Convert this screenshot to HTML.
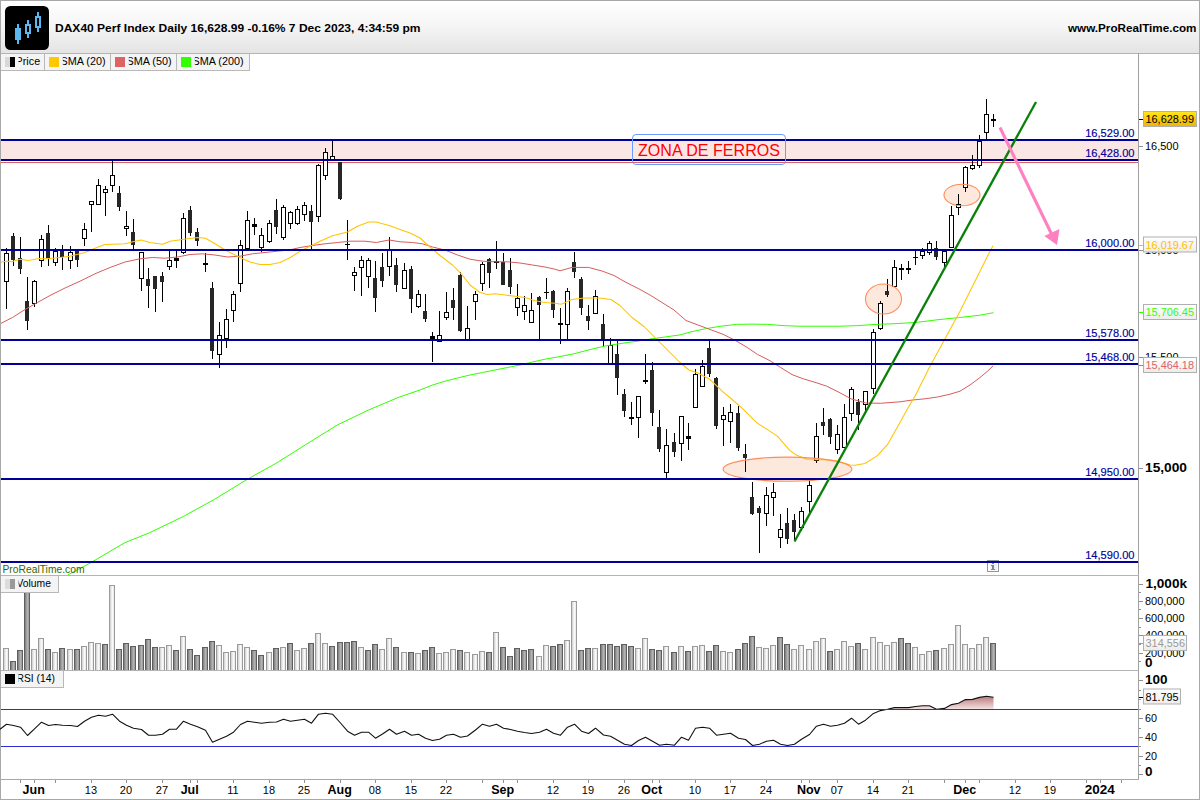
<!DOCTYPE html><html><head><meta charset="utf-8"><title>DAX40 Perf Index</title>
<style>html,body{margin:0;padding:0;background:#fff;}body{width:1200px;height:800px;overflow:hidden;font-family:"Liberation Sans",sans-serif;}svg{display:block;}text{font-family:"Liberation Sans",sans-serif;}</style></head><body>
<svg width="1200" height="800" viewBox="0 0 1200 800">
<defs>
<linearGradient id="hd" x1="0" y1="0" x2="0" y2="1"><stop offset="0" stop-color="#ffffff"/><stop offset="0.45" stop-color="#f6f6f6"/><stop offset="1" stop-color="#e4e4e4"/></linearGradient>
<linearGradient id="yl" x1="0" y1="0" x2="0" y2="1"><stop offset="0" stop-color="#ffe81a"/><stop offset="1" stop-color="#f0b400"/></linearGradient>
<linearGradient id="lb" x1="0" y1="0" x2="0" y2="1"><stop offset="0" stop-color="#ffffff"/><stop offset="1" stop-color="#ececec"/></linearGradient>
<linearGradient id="vl" x1="0" y1="0" x2="1" y2="0"><stop offset="0" stop-color="#cfcfcf"/><stop offset="0.6" stop-color="#fbfbfb"/><stop offset="1" stop-color="#e6e6e6"/></linearGradient>
<linearGradient id="vd" x1="0" y1="0" x2="1" y2="0"><stop offset="0" stop-color="#7c7c7c"/><stop offset="0.6" stop-color="#b4b4b4"/><stop offset="1" stop-color="#9a9a9a"/></linearGradient>
<linearGradient id="rg" x1="0" y1="696" x2="0" y2="709" gradientUnits="userSpaceOnUse"><stop offset="0" stop-color="#b87878"/><stop offset="1" stop-color="#f4e0e0"/></linearGradient>
<clipPath id="cp"><rect x="1" y="53" width="1137" height="522"/></clipPath>
<clipPath id="cv"><rect x="1" y="576" width="1137" height="94"/></clipPath>
<clipPath id="cr70"><rect x="1" y="671" width="1137" height="38.2"/></clipPath>
</defs>
<rect x="0" y="0" width="1200" height="800" fill="#ffffff"/>
<rect x="1" y="1" width="1198" height="52" fill="url(#hd)"/>
<rect x="1" y="53" width="1198" height="1" fill="#b4b4b4" shape-rendering="crispEdges"/>
<rect x="5" y="6" width="44" height="44" rx="5.5" ry="5.5" fill="#000"/>
<g fill="#5bb8f0" shape-rendering="crispEdges">
<rect x="17" y="24" width="2" height="20"/><rect x="15" y="28" width="6" height="12"/>
<rect x="27" y="20" width="2" height="18"/><rect x="25" y="24" width="6" height="10"/>
<rect x="37" y="12" width="2" height="20"/><rect x="35" y="16" width="6" height="12"/>
</g><g fill="#000" shape-rendering="crispEdges"><rect x="27" y="26" width="2" height="6"/><rect x="37" y="18" width="2" height="8"/></g>
<text x="55" y="32.2" font-size="11.3" font-weight="bold" fill="#000" textLength="365.5" lengthAdjust="spacingAndGlyphs">DAX40 Perf Index Daily 16,628.99 -0.16% 7 Dec 2023, 4:34:59 pm</text>
<text x="1068" y="31.8" font-size="11.3" font-weight="bold" fill="#000" textLength="128.5" lengthAdjust="spacingAndGlyphs">www.ProRealTime.com</text>
<g clip-path="url(#cp)">
<rect x="1" y="141" width="1137" height="18" fill="#fbe6e6"/>
<rect x="1" y="162" width="1137" height="1" fill="#e06060" shape-rendering="crispEdges"/>
<ellipse cx="787.5" cy="469.2" rx="64.4" ry="12.1" fill="#fde8de"/>
<ellipse cx="883.5" cy="299" rx="18" ry="15" fill="#fde8de"/>
<ellipse cx="962" cy="195" rx="18" ry="10.8" fill="#fde8de"/>
<g shape-rendering="crispEdges">
<rect x="6" y="248" width="1" height="61" fill="#000"/>
<rect x="4" y="253" width="5" height="29" fill="#000"/><rect x="5" y="254" width="3" height="27" fill="#fff"/>
<rect x="13" y="233" width="1" height="33" fill="#000"/>
<rect x="11" y="236" width="4" height="24" fill="#262626"/>
<rect x="20" y="237" width="1" height="37" fill="#000"/>
<rect x="18" y="258" width="4" height="11" fill="#262626"/>
<rect x="27" y="277" width="1" height="53" fill="#000"/>
<rect x="25" y="301" width="4" height="20" fill="#262626"/>
<rect x="34" y="280" width="1" height="27" fill="#000"/>
<rect x="32" y="281" width="5" height="23" fill="#000"/><rect x="33" y="282" width="3" height="21" fill="#fff"/>
<rect x="41" y="235" width="1" height="32" fill="#000"/>
<rect x="39" y="239" width="5" height="22" fill="#000"/><rect x="40" y="240" width="3" height="20" fill="#fff"/>
<rect x="48" y="225" width="1" height="41" fill="#000"/>
<rect x="46" y="233" width="4" height="25" fill="#262626"/>
<rect x="55" y="248" width="1" height="18" fill="#000"/>
<rect x="53" y="251" width="5" height="12" fill="#000"/><rect x="54" y="252" width="3" height="10" fill="#fff"/>
<rect x="62" y="245" width="1" height="25" fill="#000"/>
<rect x="60" y="250" width="4" height="7" fill="#262626"/>
<rect x="70" y="246" width="1" height="23" fill="#000"/>
<rect x="68" y="252" width="5" height="9" fill="#000"/><rect x="69" y="253" width="3" height="7" fill="#fff"/>
<rect x="77" y="250" width="1" height="17" fill="#000"/>
<rect x="75" y="251" width="4" height="9" fill="#262626"/>
<rect x="84" y="223" width="1" height="23" fill="#000"/>
<rect x="82" y="229" width="5" height="10" fill="#000"/><rect x="83" y="230" width="3" height="8" fill="#fff"/>
<rect x="91" y="201" width="1" height="31" fill="#000"/>
<rect x="89" y="201" width="5" height="4" fill="#000"/><rect x="90" y="202" width="3" height="2" fill="#fff"/>
<rect x="98" y="179" width="1" height="25" fill="#000"/>
<rect x="96" y="185" width="5" height="20" fill="#000"/><rect x="97" y="186" width="3" height="18" fill="#fff"/>
<rect x="105" y="186" width="1" height="30" fill="#000"/>
<rect x="103" y="189" width="5" height="4" fill="#000"/><rect x="104" y="190" width="3" height="2" fill="#fff"/>
<rect x="112" y="161" width="1" height="31" fill="#000"/>
<rect x="110" y="175" width="5" height="11" fill="#000"/><rect x="111" y="176" width="3" height="9" fill="#fff"/>
<rect x="119" y="186" width="1" height="25" fill="#000"/>
<rect x="117" y="193" width="4" height="14" fill="#262626"/>
<rect x="126" y="211" width="1" height="25" fill="#000"/>
<rect x="124" y="226" width="5" height="3" fill="#000"/><rect x="125" y="227" width="3" height="1" fill="#fff"/>
<rect x="133" y="219" width="1" height="31" fill="#000"/>
<rect x="131" y="232" width="4" height="13" fill="#262626"/>
<rect x="141" y="252" width="1" height="39" fill="#000"/>
<rect x="139" y="252" width="5" height="27" fill="#000"/><rect x="140" y="253" width="3" height="25" fill="#fff"/>
<rect x="148" y="268" width="1" height="40" fill="#000"/>
<rect x="146" y="279" width="4" height="7" fill="#262626"/>
<rect x="155" y="276" width="1" height="36" fill="#000"/>
<rect x="153" y="276" width="4" height="13" fill="#262626"/>
<rect x="162" y="272" width="1" height="30" fill="#000"/>
<rect x="160" y="276" width="4" height="6" fill="#262626"/>
<rect x="169" y="251" width="1" height="19" fill="#000"/>
<rect x="167" y="260" width="5" height="7" fill="#000"/><rect x="168" y="261" width="3" height="5" fill="#fff"/>
<rect x="176" y="251" width="1" height="17" fill="#000"/>
<rect x="174" y="258" width="5" height="3" fill="#000"/>
<rect x="183" y="213" width="1" height="41" fill="#000"/>
<rect x="181" y="218" width="5" height="35" fill="#000"/><rect x="182" y="219" width="3" height="33" fill="#fff"/>
<rect x="190" y="206" width="1" height="30" fill="#000"/>
<rect x="188" y="210" width="4" height="23" fill="#262626"/>
<rect x="197" y="228" width="1" height="18" fill="#000"/>
<rect x="195" y="232" width="4" height="9" fill="#262626"/>
<rect x="205" y="253" width="1" height="19" fill="#000"/>
<rect x="203" y="263" width="5" height="2" fill="#000"/>
<rect x="212" y="282" width="1" height="77" fill="#000"/>
<rect x="210" y="288" width="4" height="63" fill="#262626"/>
<rect x="219" y="322" width="1" height="46" fill="#000"/>
<rect x="217" y="335" width="5" height="20" fill="#000"/><rect x="218" y="336" width="3" height="18" fill="#fff"/>
<rect x="226" y="309" width="1" height="39" fill="#000"/>
<rect x="224" y="319" width="5" height="20" fill="#000"/><rect x="225" y="320" width="3" height="18" fill="#fff"/>
<rect x="233" y="291" width="1" height="31" fill="#000"/>
<rect x="231" y="294" width="5" height="17" fill="#000"/><rect x="232" y="295" width="3" height="15" fill="#fff"/>
<rect x="240" y="240" width="1" height="52" fill="#000"/>
<rect x="238" y="245" width="5" height="39" fill="#000"/><rect x="239" y="246" width="3" height="37" fill="#fff"/>
<rect x="247" y="211" width="1" height="37" fill="#000"/>
<rect x="245" y="220" width="5" height="29" fill="#000"/><rect x="246" y="221" width="3" height="27" fill="#fff"/>
<rect x="254" y="218" width="1" height="17" fill="#000"/>
<rect x="252" y="224" width="5" height="3" fill="#000"/>
<rect x="261" y="228" width="1" height="24" fill="#000"/>
<rect x="259" y="235" width="5" height="13" fill="#000"/><rect x="260" y="236" width="3" height="11" fill="#fff"/>
<rect x="269" y="220" width="1" height="23" fill="#000"/>
<rect x="267" y="223" width="5" height="19" fill="#000"/><rect x="268" y="224" width="3" height="17" fill="#fff"/>
<rect x="276" y="199" width="1" height="35" fill="#000"/>
<rect x="274" y="210" width="4" height="17" fill="#262626"/>
<rect x="283" y="205" width="1" height="35" fill="#000"/>
<rect x="281" y="207" width="5" height="31" fill="#000"/><rect x="282" y="208" width="3" height="29" fill="#fff"/>
<rect x="290" y="211" width="1" height="18" fill="#000"/>
<rect x="288" y="212" width="5" height="12" fill="#000"/><rect x="289" y="213" width="3" height="10" fill="#fff"/>
<rect x="297" y="206" width="1" height="19" fill="#000"/>
<rect x="295" y="209" width="5" height="15" fill="#000"/><rect x="296" y="210" width="3" height="13" fill="#fff"/>
<rect x="304" y="202" width="1" height="19" fill="#000"/>
<rect x="302" y="205" width="5" height="10" fill="#000"/><rect x="303" y="206" width="3" height="8" fill="#fff"/>
<rect x="311" y="205" width="1" height="44" fill="#000"/>
<rect x="309" y="211" width="4" height="11" fill="#262626"/>
<rect x="318" y="164" width="1" height="58" fill="#000"/>
<rect x="316" y="165" width="5" height="52" fill="#000"/><rect x="317" y="166" width="3" height="50" fill="#fff"/>
<rect x="325" y="148" width="1" height="32" fill="#000"/>
<rect x="323" y="152" width="5" height="24" fill="#000"/><rect x="324" y="153" width="3" height="22" fill="#fff"/>
<rect x="332" y="141" width="1" height="19" fill="#000"/>
<rect x="330" y="156" width="5" height="4" fill="#000"/><rect x="331" y="157" width="3" height="2" fill="#fff"/>
<rect x="340" y="162" width="1" height="38" fill="#000"/>
<rect x="338" y="162" width="4" height="37" fill="#262626"/>
<rect x="347" y="220" width="1" height="40" fill="#000"/>
<rect x="345" y="244" width="5" height="1" fill="#000"/>
<rect x="354" y="267" width="1" height="24" fill="#000"/>
<rect x="352" y="272" width="5" height="4" fill="#000"/><rect x="353" y="273" width="3" height="2" fill="#fff"/>
<rect x="361" y="256" width="1" height="40" fill="#000"/>
<rect x="359" y="260" width="5" height="8" fill="#000"/><rect x="360" y="261" width="3" height="6" fill="#fff"/>
<rect x="368" y="258" width="1" height="30" fill="#000"/>
<rect x="366" y="260" width="5" height="17" fill="#000"/><rect x="367" y="261" width="3" height="15" fill="#fff"/>
<rect x="375" y="261" width="1" height="51" fill="#000"/>
<rect x="373" y="278" width="4" height="20" fill="#262626"/>
<rect x="382" y="253" width="1" height="34" fill="#000"/>
<rect x="380" y="267" width="4" height="14" fill="#262626"/>
<rect x="389" y="237" width="1" height="39" fill="#000"/>
<rect x="387" y="250" width="5" height="17" fill="#000"/><rect x="388" y="251" width="3" height="15" fill="#fff"/>
<rect x="396" y="258" width="1" height="34" fill="#000"/>
<rect x="394" y="265" width="4" height="20" fill="#262626"/>
<rect x="404" y="263" width="1" height="25" fill="#000"/>
<rect x="402" y="270" width="5" height="19" fill="#000"/><rect x="403" y="271" width="3" height="17" fill="#fff"/>
<rect x="411" y="266" width="1" height="47" fill="#000"/>
<rect x="409" y="269" width="4" height="30" fill="#262626"/>
<rect x="418" y="290" width="1" height="18" fill="#000"/>
<rect x="416" y="294" width="5" height="13" fill="#000"/><rect x="417" y="295" width="3" height="11" fill="#fff"/>
<rect x="425" y="294" width="1" height="28" fill="#000"/>
<rect x="423" y="311" width="4" height="8" fill="#262626"/>
<rect x="432" y="332" width="1" height="30" fill="#000"/>
<rect x="430" y="336" width="5" height="3" fill="#000"/>
<rect x="439" y="311" width="1" height="30" fill="#000"/>
<rect x="437" y="335" width="5" height="7" fill="#000"/><rect x="438" y="336" width="3" height="5" fill="#fff"/>
<rect x="446" y="292" width="1" height="28" fill="#000"/>
<rect x="444" y="312" width="5" height="6" fill="#000"/><rect x="445" y="313" width="3" height="4" fill="#fff"/>
<rect x="453" y="288" width="1" height="32" fill="#000"/>
<rect x="451" y="300" width="4" height="8" fill="#262626"/>
<rect x="460" y="272" width="1" height="60" fill="#000"/>
<rect x="458" y="275" width="4" height="56" fill="#262626"/>
<rect x="467" y="306" width="1" height="33" fill="#000"/>
<rect x="465" y="328" width="5" height="12" fill="#000"/><rect x="466" y="329" width="3" height="10" fill="#fff"/>
<rect x="475" y="291" width="1" height="29" fill="#000"/>
<rect x="473" y="294" width="5" height="8" fill="#000"/><rect x="474" y="295" width="3" height="6" fill="#fff"/>
<rect x="482" y="262" width="1" height="29" fill="#000"/>
<rect x="480" y="264" width="5" height="20" fill="#000"/><rect x="481" y="265" width="3" height="18" fill="#fff"/>
<rect x="489" y="258" width="1" height="30" fill="#000"/>
<rect x="487" y="259" width="4" height="14" fill="#262626"/>
<rect x="496" y="241" width="1" height="28" fill="#000"/>
<rect x="494" y="261" width="5" height="2" fill="#000"/>
<rect x="503" y="253" width="1" height="32" fill="#000"/>
<rect x="501" y="262" width="4" height="23" fill="#262626"/>
<rect x="510" y="258" width="1" height="36" fill="#000"/>
<rect x="508" y="270" width="4" height="17" fill="#262626"/>
<rect x="517" y="284" width="1" height="32" fill="#000"/>
<rect x="515" y="298" width="5" height="10" fill="#000"/><rect x="516" y="299" width="3" height="8" fill="#fff"/>
<rect x="524" y="296" width="1" height="24" fill="#000"/>
<rect x="522" y="305" width="5" height="7" fill="#000"/><rect x="523" y="306" width="3" height="5" fill="#fff"/>
<rect x="531" y="293" width="1" height="29" fill="#000"/>
<rect x="529" y="310" width="5" height="13" fill="#000"/><rect x="530" y="311" width="3" height="11" fill="#fff"/>
<rect x="539" y="296" width="1" height="43" fill="#000"/>
<rect x="537" y="297" width="4" height="8" fill="#262626"/>
<rect x="546" y="278" width="1" height="21" fill="#000"/>
<rect x="544" y="292" width="5" height="1" fill="#000"/>
<rect x="553" y="290" width="1" height="28" fill="#000"/>
<rect x="551" y="291" width="4" height="19" fill="#262626"/>
<rect x="560" y="308" width="1" height="36" fill="#000"/>
<rect x="558" y="323" width="5" height="2" fill="#000"/>
<rect x="567" y="288" width="1" height="51" fill="#000"/>
<rect x="565" y="291" width="5" height="34" fill="#000"/><rect x="566" y="292" width="3" height="32" fill="#fff"/>
<rect x="574" y="252" width="1" height="26" fill="#000"/>
<rect x="572" y="262" width="4" height="10" fill="#262626"/>
<rect x="581" y="277" width="1" height="38" fill="#000"/>
<rect x="579" y="279" width="4" height="29" fill="#262626"/>
<rect x="588" y="305" width="1" height="25" fill="#000"/>
<rect x="586" y="316" width="4" height="5" fill="#262626"/>
<rect x="595" y="290" width="1" height="24" fill="#000"/>
<rect x="593" y="296" width="5" height="18" fill="#000"/><rect x="594" y="297" width="3" height="16" fill="#fff"/>
<rect x="603" y="314" width="1" height="33" fill="#000"/>
<rect x="601" y="324" width="4" height="15" fill="#262626"/>
<rect x="610" y="338" width="1" height="26" fill="#000"/>
<rect x="608" y="345" width="5" height="20" fill="#000"/><rect x="609" y="346" width="3" height="18" fill="#fff"/>
<rect x="617" y="341" width="1" height="54" fill="#000"/>
<rect x="615" y="354" width="4" height="24" fill="#262626"/>
<rect x="624" y="389" width="1" height="28" fill="#000"/>
<rect x="622" y="394" width="4" height="17" fill="#262626"/>
<rect x="631" y="402" width="1" height="23" fill="#000"/>
<rect x="629" y="417" width="5" height="2" fill="#000"/>
<rect x="638" y="396" width="1" height="42" fill="#000"/>
<rect x="636" y="396" width="5" height="22" fill="#000"/><rect x="637" y="397" width="3" height="20" fill="#fff"/>
<rect x="645" y="354" width="1" height="30" fill="#000"/>
<rect x="643" y="380" width="5" height="2" fill="#000"/>
<rect x="652" y="362" width="1" height="64" fill="#000"/>
<rect x="650" y="370" width="4" height="43" fill="#262626"/>
<rect x="659" y="410" width="1" height="42" fill="#000"/>
<rect x="657" y="427" width="4" height="22" fill="#262626"/>
<rect x="666" y="429" width="1" height="51" fill="#000"/>
<rect x="664" y="445" width="5" height="28" fill="#000"/><rect x="665" y="446" width="3" height="26" fill="#fff"/>
<rect x="674" y="433" width="1" height="24" fill="#000"/>
<rect x="672" y="442" width="4" height="10" fill="#262626"/>
<rect x="681" y="416" width="1" height="45" fill="#000"/>
<rect x="679" y="416" width="5" height="28" fill="#000"/><rect x="680" y="417" width="3" height="26" fill="#fff"/>
<rect x="688" y="423" width="1" height="27" fill="#000"/>
<rect x="686" y="436" width="5" height="3" fill="#000"/>
<rect x="695" y="369" width="1" height="38" fill="#000"/>
<rect x="693" y="374" width="5" height="34" fill="#000"/><rect x="694" y="375" width="3" height="32" fill="#fff"/>
<rect x="702" y="360" width="1" height="26" fill="#000"/>
<rect x="700" y="366" width="5" height="21" fill="#000"/><rect x="701" y="367" width="3" height="19" fill="#fff"/>
<rect x="709" y="341" width="1" height="36" fill="#000"/>
<rect x="707" y="348" width="4" height="26" fill="#262626"/>
<rect x="716" y="377" width="1" height="52" fill="#000"/>
<rect x="714" y="378" width="4" height="48" fill="#262626"/>
<rect x="723" y="407" width="1" height="39" fill="#000"/>
<rect x="721" y="415" width="5" height="5" fill="#000"/><rect x="722" y="416" width="3" height="3" fill="#fff"/>
<rect x="730" y="404" width="1" height="39" fill="#000"/>
<rect x="728" y="412" width="5" height="10" fill="#000"/><rect x="729" y="413" width="3" height="8" fill="#fff"/>
<rect x="738" y="406" width="1" height="45" fill="#000"/>
<rect x="736" y="413" width="4" height="35" fill="#262626"/>
<rect x="745" y="444" width="1" height="28" fill="#000"/>
<rect x="743" y="454" width="4" height="4" fill="#262626"/>
<rect x="752" y="482" width="1" height="33" fill="#000"/>
<rect x="750" y="497" width="4" height="17" fill="#262626"/>
<rect x="759" y="506" width="1" height="47" fill="#000"/>
<rect x="757" y="508" width="4" height="5" fill="#262626"/>
<rect x="766" y="487" width="1" height="39" fill="#000"/>
<rect x="764" y="495" width="5" height="19" fill="#000"/><rect x="765" y="496" width="3" height="17" fill="#fff"/>
<rect x="773" y="483" width="1" height="33" fill="#000"/>
<rect x="771" y="492" width="5" height="6" fill="#000"/><rect x="772" y="493" width="3" height="4" fill="#fff"/>
<rect x="780" y="514" width="1" height="34" fill="#000"/>
<rect x="778" y="529" width="5" height="9" fill="#000"/><rect x="779" y="530" width="3" height="7" fill="#fff"/>
<rect x="787" y="508" width="1" height="36" fill="#000"/>
<rect x="785" y="523" width="4" height="16" fill="#262626"/>
<rect x="794" y="514" width="1" height="27" fill="#000"/>
<rect x="792" y="520" width="4" height="12" fill="#262626"/>
<rect x="801" y="507" width="1" height="24" fill="#000"/>
<rect x="799" y="511" width="5" height="17" fill="#000"/><rect x="800" y="512" width="3" height="15" fill="#fff"/>
<rect x="809" y="480" width="1" height="34" fill="#000"/>
<rect x="807" y="485" width="5" height="17" fill="#000"/><rect x="808" y="486" width="3" height="15" fill="#fff"/>
<rect x="816" y="423" width="1" height="40" fill="#000"/>
<rect x="814" y="436" width="5" height="25" fill="#000"/><rect x="815" y="437" width="3" height="23" fill="#fff"/>
<rect x="823" y="408" width="1" height="27" fill="#000"/>
<rect x="821" y="422" width="4" height="4" fill="#262626"/>
<rect x="830" y="418" width="1" height="26" fill="#000"/>
<rect x="828" y="419" width="4" height="18" fill="#262626"/>
<rect x="837" y="425" width="1" height="29" fill="#000"/>
<rect x="835" y="434" width="5" height="16" fill="#000"/><rect x="836" y="435" width="3" height="14" fill="#fff"/>
<rect x="844" y="404" width="1" height="44" fill="#000"/>
<rect x="842" y="417" width="5" height="31" fill="#000"/><rect x="843" y="418" width="3" height="29" fill="#fff"/>
<rect x="851" y="387" width="1" height="34" fill="#000"/>
<rect x="849" y="389" width="5" height="25" fill="#000"/><rect x="850" y="390" width="3" height="23" fill="#fff"/>
<rect x="858" y="399" width="1" height="31" fill="#000"/>
<rect x="856" y="402" width="4" height="13" fill="#262626"/>
<rect x="865" y="392" width="1" height="20" fill="#000"/>
<rect x="863" y="391" width="5" height="14" fill="#000"/><rect x="864" y="392" width="3" height="12" fill="#fff"/>
<rect x="873" y="329" width="1" height="65" fill="#000"/>
<rect x="871" y="332" width="5" height="57" fill="#000"/><rect x="872" y="333" width="3" height="55" fill="#fff"/>
<rect x="880" y="301" width="1" height="29" fill="#000"/>
<rect x="878" y="303" width="5" height="26" fill="#000"/><rect x="879" y="304" width="3" height="24" fill="#fff"/>
<rect x="887" y="279" width="1" height="18" fill="#000"/>
<rect x="885" y="291" width="4" height="4" fill="#262626"/>
<rect x="894" y="260" width="1" height="26" fill="#000"/>
<rect x="892" y="267" width="5" height="20" fill="#000"/><rect x="893" y="268" width="3" height="18" fill="#fff"/>
<rect x="901" y="264" width="1" height="16" fill="#000"/>
<rect x="899" y="268" width="5" height="2" fill="#000"/>
<rect x="908" y="261" width="1" height="13" fill="#000"/>
<rect x="906" y="268" width="5" height="2" fill="#000"/>
<rect x="915" y="251" width="1" height="14" fill="#000"/>
<rect x="913" y="257" width="5" height="1" fill="#000"/>
<rect x="922" y="248" width="1" height="11" fill="#000"/>
<rect x="920" y="251" width="5" height="5" fill="#000"/><rect x="921" y="252" width="3" height="3" fill="#fff"/>
<rect x="929" y="241" width="1" height="14" fill="#000"/>
<rect x="927" y="243" width="5" height="10" fill="#000"/><rect x="928" y="244" width="3" height="8" fill="#fff"/>
<rect x="936" y="241" width="1" height="19" fill="#000"/>
<rect x="934" y="248" width="4" height="9" fill="#262626"/>
<rect x="944" y="251" width="1" height="17" fill="#000"/>
<rect x="942" y="251" width="5" height="12" fill="#000"/><rect x="943" y="252" width="3" height="10" fill="#fff"/>
<rect x="951" y="206" width="1" height="42" fill="#000"/>
<rect x="949" y="215" width="5" height="33" fill="#000"/><rect x="950" y="216" width="3" height="31" fill="#fff"/>
<rect x="958" y="194" width="1" height="21" fill="#000"/>
<rect x="956" y="204" width="5" height="4" fill="#000"/><rect x="957" y="205" width="3" height="2" fill="#fff"/>
<rect x="965" y="166" width="1" height="26" fill="#000"/>
<rect x="963" y="167" width="5" height="21" fill="#000"/><rect x="964" y="168" width="3" height="19" fill="#fff"/>
<rect x="972" y="155" width="1" height="15" fill="#000"/>
<rect x="970" y="165" width="5" height="4" fill="#000"/><rect x="971" y="166" width="3" height="2" fill="#fff"/>
<rect x="979" y="135" width="1" height="33" fill="#000"/>
<rect x="977" y="141" width="5" height="25" fill="#000"/><rect x="978" y="142" width="3" height="23" fill="#fff"/>
<rect x="986" y="99" width="1" height="40" fill="#000"/>
<rect x="984" y="114" width="5" height="19" fill="#000"/><rect x="985" y="115" width="3" height="17" fill="#fff"/>
<rect x="993" y="114" width="1" height="13" fill="#000"/>
<rect x="991" y="119" width="5" height="2" fill="#000"/>
</g>
<polyline points="67.7,575.0 90.8,562.7 124.8,542.7 149.4,532.8 183.3,516.5 214.2,499.5 248.1,478.8 275.9,463.4 306.7,444.0 337.5,424.9 368.4,410.1 399.2,397.1 420.0,390.0 432.5,385.0 445.0,381.2 457.5,378.0 470.0,375.0 482.5,372.5 495.0,370.0 507.5,367.5 520.0,365.0 532.5,362.0 545.0,359.2 557.5,357.0 575.0,353.5 590.0,349.6 605.0,346.0 620.0,343.6 635.0,341.5 650.0,339.1 665.0,337.0 680.0,334.9 690.0,332.1 705.5,328.7 721.0,326.2 736.5,324.4 752.0,324.1 767.5,324.4 783.0,325.6 798.5,326.2 819.2,326.2 839.8,326.2 857.9,325.6 876.0,324.4 896.7,323.6 917.3,322.3 938.0,319.7 958.7,317.6 979.3,315.3 993.5,312.7" fill="none" stroke="#32ff00" stroke-width="1.0" stroke-linejoin="round"/>
<polyline points="0.0,323.8 12.5,317.5 25.0,309.5 37.5,302.5 50.0,295.5 65.0,288.0 80.0,281.2 95.0,273.8 110.0,267.5 125.0,262.0 140.0,258.8 152.5,257.5 165.0,258.2 177.5,257.0 190.0,254.5 202.5,253.8 215.0,255.0 227.5,257.0 240.0,256.2 252.5,253.8 265.0,252.5 277.5,251.2 290.0,249.8 300.0,247.5 312.5,245.5 325.0,243.8 337.5,242.5 350.0,241.2 365.0,241.2 376.2,242.5 389.2,240.0 400.0,241.8 412.5,242.5 422.5,243.8 432.5,247.0 445.0,250.0 457.5,255.0 470.0,259.2 482.5,261.2 495.0,261.8 507.5,261.8 520.0,263.0 532.5,265.0 545.0,267.0 555.0,269.2 560.0,270.8 572.0,267.4 588.5,267.4 602.0,271.0 614.0,275.5 626.0,282.4 638.0,288.4 650.0,295.0 662.0,302.5 674.0,310.0 686.0,320.5 698.0,325.0 711.5,330.0 723.0,334.3 734.5,340.0 746.0,346.7 757.5,354.4 769.0,360.2 780.5,367.4 792.0,374.6 803.5,378.9 815.0,382.3 826.5,386.1 838.0,391.8 851.5,399.0 865.9,403.0 880.3,403.3 900.0,401.8 912.5,400.0 925.0,398.8 937.5,397.0 950.0,394.2 960.0,391.2 970.0,385.0 980.0,377.5 987.5,371.2 993.2,365.8" fill="none" stroke="#d85c5c" stroke-width="1.0" stroke-linejoin="round"/>
<polyline points="0.0,262.5 6.2,261.2 12.5,261.6 15.6,260.6 20.6,259.2 23.8,259.7 27.5,260.5 32.5,259.7 38.8,258.4 43.8,258.8 50.0,258.4 55.0,258.1 60.0,257.5 70.0,256.2 85.0,252.5 95.0,248.2 105.0,244.5 125.0,243.8 135.0,241.2 141.0,240.0 150.0,242.5 162.5,244.2 170.0,241.2 182.5,239.5 197.5,237.5 205.5,238.2 215.0,243.8 225.0,250.0 240.0,257.5 250.0,262.0 260.0,264.5 270.0,264.5 280.0,262.5 290.0,257.8 300.0,251.2 310.0,246.2 320.0,241.2 332.5,235.8 347.5,232.0 357.5,226.2 368.8,222.0 376.2,222.0 390.0,225.8 400.0,229.5 410.0,233.0 420.0,238.0 430.0,247.0 440.0,255.5 452.5,265.0 461.2,273.8 470.0,285.0 480.0,292.5 487.5,294.5 495.0,293.8 505.0,295.0 515.0,296.2 525.0,297.5 535.0,300.8 545.0,302.5 555.0,303.2 561.2,304.2 572.0,299.5 584.0,298.0 599.0,298.0 611.0,299.5 620.0,305.5 632.0,317.5 644.0,326.5 656.0,338.5 668.0,350.5 680.0,362.5 689.0,370.0 698.0,373.0 710.0,379.5 723.0,391.8 731.6,399.0 743.1,409.1 757.5,423.4 769.0,430.6 777.6,436.4 786.3,446.4 790.0,450.6 796.2,455.0 807.5,459.4 815.0,459.8 825.0,459.8 835.0,460.6 842.5,462.5 850.0,465.0 855.0,465.2 865.0,463.5 877.4,455.6 887.4,444.7 900.0,422.5 907.5,408.8 915.0,396.2 922.5,381.2 930.0,366.2 937.5,352.5 945.0,338.8 952.5,325.0 960.0,311.2 967.5,296.2 975.0,281.2 982.5,266.2 990.0,251.2 993.2,245.5" fill="none" stroke="#ffc400" stroke-width="1.05" stroke-linejoin="round"/>
<ellipse cx="787.5" cy="469.2" rx="64.4" ry="12.1" fill="none" stroke="#ff8c55" stroke-width="1.1"/>
<ellipse cx="883.5" cy="299" rx="18" ry="15" fill="none" stroke="#ff8c55" stroke-width="1.1"/>
<ellipse cx="962" cy="195" rx="18" ry="10.8" fill="none" stroke="#ff8c55" stroke-width="1.1"/>
<rect x="1" y="139" width="1137" height="2" fill="#000099" shape-rendering="crispEdges"/>
<rect x="1" y="159" width="1137" height="2" fill="#000099" shape-rendering="crispEdges"/>
<rect x="1" y="249" width="1137" height="2" fill="#000099" shape-rendering="crispEdges"/>
<rect x="1" y="339" width="1137" height="2" fill="#000099" shape-rendering="crispEdges"/>
<rect x="1" y="363" width="1137" height="2" fill="#000099" shape-rendering="crispEdges"/>
<rect x="1" y="478" width="1137" height="2" fill="#000099" shape-rendering="crispEdges"/>
<rect x="1" y="561" width="1137" height="2" fill="#000099" shape-rendering="crispEdges"/>
<text x="1134.5" y="137" font-size="11" fill="#000099" stroke="#000099" stroke-width="0.15" text-anchor="end" textLength="49.3" lengthAdjust="spacingAndGlyphs">16,529.00</text>
<text x="1134.5" y="157" font-size="11" fill="#000099" stroke="#000099" stroke-width="0.15" text-anchor="end" textLength="49.3" lengthAdjust="spacingAndGlyphs">16,428.00</text>
<text x="1134.5" y="247" font-size="11" fill="#000099" stroke="#000099" stroke-width="0.15" text-anchor="end" textLength="49.3" lengthAdjust="spacingAndGlyphs">16,000.00</text>
<text x="1134.5" y="337" font-size="11" fill="#000099" stroke="#000099" stroke-width="0.15" text-anchor="end" textLength="49.3" lengthAdjust="spacingAndGlyphs">15,578.00</text>
<text x="1134.5" y="361" font-size="11" fill="#000099" stroke="#000099" stroke-width="0.15" text-anchor="end" textLength="49.3" lengthAdjust="spacingAndGlyphs">15,468.00</text>
<text x="1134.5" y="476" font-size="11" fill="#000099" stroke="#000099" stroke-width="0.15" text-anchor="end" textLength="49.3" lengthAdjust="spacingAndGlyphs">14,950.00</text>
<text x="1134.5" y="559" font-size="11" fill="#000099" stroke="#000099" stroke-width="0.15" text-anchor="end" textLength="49.3" lengthAdjust="spacingAndGlyphs">14,590.00</text>
<rect x="987.5" y="560.5" width="11" height="11" fill="#fff" stroke="#8a9aa4" stroke-width="1"/>
<g shape-rendering="crispEdges"><rect x="990" y="564" width="7" height="6" fill="#f0f0f0"/><rect x="992" y="565" width="2" height="5" fill="#7a8a94"/><rect x="991" y="565" width="1" height="1" fill="#7a8a94"/><rect x="991" y="569" width="4" height="1" fill="#7a8a94"/><rect x="992" y="563" width="2" height="1" fill="#7a8a94"/></g>
<rect x="1" y="561" width="1137" height="2" fill="#000099" shape-rendering="crispEdges"/>
<line x1="794.5" y1="541.5" x2="1036" y2="102" stroke="#0a800a" stroke-width="2.3" stroke-linecap="butt"/>
<line x1="1000" y1="127.5" x2="1052" y2="235" stroke="#ff80c0" stroke-width="3.1"/>
<polygon points="1057,245 1044.3,236 1059.5,229" fill="#ff80c0"/>
<rect x="632.5" y="134.5" width="153" height="30" rx="3.5" ry="3.5" fill="none" stroke="#6a9cff" stroke-width="1"/>
<text x="638" y="155.7" font-size="16.5" fill="#ff0000" textLength="142" lengthAdjust="spacingAndGlyphs">ZONA DE FERROS</text>
<text x="2.5" y="572.8" font-size="11" fill="#336600" textLength="82" lengthAdjust="spacingAndGlyphs">ProRealTime.com</text>
</g>
<g shape-rendering="crispEdges">
<rect x="1" y="54" width="43" height="16" fill="#f4f4f4"/>
<rect x="1" y="70" width="44" height="1" fill="#b8b8b8"/>
<rect x="44" y="54" width="1" height="16" fill="#b8b8b8"/>
<rect x="45" y="54" width="65" height="16" fill="#f4f4f4"/>
<rect x="45" y="70" width="66" height="1" fill="#b8b8b8"/>
<rect x="110" y="54" width="1" height="16" fill="#b8b8b8"/>
<rect x="111" y="54" width="65" height="16" fill="#f4f4f4"/>
<rect x="111" y="70" width="66" height="1" fill="#b8b8b8"/>
<rect x="176" y="54" width="1" height="16" fill="#b8b8b8"/>
<rect x="177" y="54" width="72" height="16" fill="#f4f4f4"/>
<rect x="177" y="70" width="73" height="1" fill="#b8b8b8"/>
<rect x="249" y="54" width="1" height="16" fill="#b8b8b8"/>
<rect x="5" y="57" width="5" height="10" fill="#d8d8d8"/><rect x="10" y="57" width="5" height="10" fill="#000"/>
<rect x="49" y="57" width="10" height="10" fill="#ffc800"/>
<rect x="115" y="57" width="10" height="10" fill="#dc6464"/>
<rect x="181" y="57" width="10" height="10" fill="#32ff00"/>
</g>
<svg x="18.5" y="53.3" width="34.5" height="18" overflow="hidden"><text x="-2.9000000000000004" y="12" font-size="11" fill="#000" textLength="24.5" lengthAdjust="spacingAndGlyphs">Price</text></svg>
<svg x="62.8" y="53.3" width="55" height="18" overflow="hidden"><text x="-2.299999999999997" y="12" font-size="11" fill="#000" textLength="45" lengthAdjust="spacingAndGlyphs">SMA (20)</text></svg>
<svg x="128.8" y="53.3" width="55" height="18" overflow="hidden"><text x="-2.3000000000000114" y="12" font-size="11" fill="#000" textLength="45" lengthAdjust="spacingAndGlyphs">SMA (50)</text></svg>
<svg x="194.8" y="53.3" width="61" height="18" overflow="hidden"><text x="-2.3000000000000114" y="12" font-size="11" fill="#000" textLength="51" lengthAdjust="spacingAndGlyphs">SMA (200)</text></svg>
<g shape-rendering="crispEdges">
<rect x="0" y="0" width="1200" height="1" fill="#a8a8a8"/><rect x="0" y="799" width="1200" height="1" fill="#a8a8a8"/>
<rect x="0" y="0" width="1" height="800" fill="#a8a8a8"/><rect x="1199" y="0" width="1" height="800" fill="#a8a8a8"/>
<rect x="1138" y="53" width="1" height="727" fill="#a0a0a0"/>
<rect x="1" y="575" width="1138" height="1" fill="#b4b4b4"/>
<rect x="1" y="670" width="1138" height="1" fill="#b4b4b4"/>
<rect x="1" y="779" width="1138" height="1" fill="#a8a8a8"/>
</g>
<g clip-path="url(#cv)" shape-rendering="crispEdges">
<rect x="3" y="648" width="6" height="22" fill="#9a9a9a"/><rect x="4" y="649" width="4" height="21" fill="url(#vl)"/>
<rect x="10" y="661" width="6" height="9" fill="#5e5e5e"/><rect x="11" y="662" width="4" height="8" fill="url(#vd)"/>
<rect x="17" y="650" width="6" height="20" fill="#5e5e5e"/><rect x="18" y="651" width="4" height="19" fill="url(#vd)"/>
<rect x="24" y="576" width="6" height="94" fill="#5e5e5e"/><rect x="25" y="577" width="4" height="93" fill="url(#vd)"/>
<rect x="31" y="649" width="6" height="21" fill="#9a9a9a"/><rect x="32" y="650" width="4" height="20" fill="url(#vl)"/>
<rect x="38" y="638" width="6" height="32" fill="#9a9a9a"/><rect x="39" y="639" width="4" height="31" fill="url(#vl)"/>
<rect x="45" y="649" width="6" height="21" fill="#5e5e5e"/><rect x="46" y="650" width="4" height="20" fill="url(#vd)"/>
<rect x="52" y="652" width="6" height="18" fill="#9a9a9a"/><rect x="53" y="653" width="4" height="17" fill="url(#vl)"/>
<rect x="59" y="648" width="6" height="22" fill="#5e5e5e"/><rect x="60" y="649" width="4" height="21" fill="url(#vd)"/>
<rect x="67" y="649" width="6" height="21" fill="#9a9a9a"/><rect x="68" y="650" width="4" height="20" fill="url(#vl)"/>
<rect x="74" y="649" width="6" height="21" fill="#5e5e5e"/><rect x="75" y="650" width="4" height="20" fill="url(#vd)"/>
<rect x="81" y="646" width="6" height="24" fill="#9a9a9a"/><rect x="82" y="647" width="4" height="23" fill="url(#vl)"/>
<rect x="88" y="642" width="6" height="28" fill="#9a9a9a"/><rect x="89" y="643" width="4" height="27" fill="url(#vl)"/>
<rect x="95" y="643" width="6" height="27" fill="#9a9a9a"/><rect x="96" y="644" width="4" height="26" fill="url(#vl)"/>
<rect x="102" y="644" width="6" height="26" fill="#5e5e5e"/><rect x="103" y="645" width="4" height="25" fill="url(#vd)"/>
<rect x="109" y="585" width="6" height="85" fill="#9a9a9a"/><rect x="110" y="586" width="4" height="84" fill="url(#vl)"/>
<rect x="116" y="649" width="6" height="21" fill="#5e5e5e"/><rect x="117" y="650" width="4" height="20" fill="url(#vd)"/>
<rect x="123" y="643" width="6" height="27" fill="#5e5e5e"/><rect x="124" y="644" width="4" height="26" fill="url(#vd)"/>
<rect x="130" y="646" width="6" height="24" fill="#5e5e5e"/><rect x="131" y="647" width="4" height="23" fill="url(#vd)"/>
<rect x="138" y="645" width="6" height="25" fill="#5e5e5e"/><rect x="139" y="646" width="4" height="24" fill="url(#vd)"/>
<rect x="145" y="639" width="6" height="31" fill="#5e5e5e"/><rect x="146" y="640" width="4" height="30" fill="url(#vd)"/>
<rect x="152" y="647" width="6" height="23" fill="#5e5e5e"/><rect x="153" y="648" width="4" height="22" fill="url(#vd)"/>
<rect x="159" y="647" width="6" height="23" fill="#9a9a9a"/><rect x="160" y="648" width="4" height="22" fill="url(#vl)"/>
<rect x="166" y="645" width="6" height="25" fill="#9a9a9a"/><rect x="167" y="646" width="4" height="24" fill="url(#vl)"/>
<rect x="173" y="650" width="6" height="20" fill="#5e5e5e"/><rect x="174" y="651" width="4" height="19" fill="url(#vd)"/>
<rect x="180" y="636" width="6" height="34" fill="#9a9a9a"/><rect x="181" y="637" width="4" height="33" fill="url(#vl)"/>
<rect x="187" y="649" width="6" height="21" fill="#5e5e5e"/><rect x="188" y="650" width="4" height="20" fill="url(#vd)"/>
<rect x="194" y="655" width="6" height="15" fill="#5e5e5e"/><rect x="195" y="656" width="4" height="14" fill="url(#vd)"/>
<rect x="202" y="647" width="6" height="23" fill="#5e5e5e"/><rect x="203" y="648" width="4" height="22" fill="url(#vd)"/>
<rect x="209" y="641" width="6" height="29" fill="#5e5e5e"/><rect x="210" y="642" width="4" height="28" fill="url(#vd)"/>
<rect x="216" y="645" width="6" height="25" fill="#9a9a9a"/><rect x="217" y="646" width="4" height="24" fill="url(#vl)"/>
<rect x="223" y="652" width="6" height="18" fill="#9a9a9a"/><rect x="224" y="653" width="4" height="17" fill="url(#vl)"/>
<rect x="230" y="651" width="6" height="19" fill="#9a9a9a"/><rect x="231" y="652" width="4" height="18" fill="url(#vl)"/>
<rect x="237" y="644" width="6" height="26" fill="#9a9a9a"/><rect x="238" y="645" width="4" height="25" fill="url(#vl)"/>
<rect x="244" y="647" width="6" height="23" fill="#9a9a9a"/><rect x="245" y="648" width="4" height="22" fill="url(#vl)"/>
<rect x="251" y="650" width="6" height="20" fill="#5e5e5e"/><rect x="252" y="651" width="4" height="19" fill="url(#vd)"/>
<rect x="258" y="655" width="6" height="15" fill="#5e5e5e"/><rect x="259" y="656" width="4" height="14" fill="url(#vd)"/>
<rect x="266" y="652" width="6" height="18" fill="#9a9a9a"/><rect x="267" y="653" width="4" height="17" fill="url(#vl)"/>
<rect x="273" y="648" width="6" height="22" fill="#5e5e5e"/><rect x="274" y="649" width="4" height="21" fill="url(#vd)"/>
<rect x="280" y="647" width="6" height="23" fill="#9a9a9a"/><rect x="281" y="648" width="4" height="22" fill="url(#vl)"/>
<rect x="287" y="643" width="6" height="27" fill="#5e5e5e"/><rect x="288" y="644" width="4" height="26" fill="url(#vd)"/>
<rect x="294" y="650" width="6" height="20" fill="#9a9a9a"/><rect x="295" y="651" width="4" height="19" fill="url(#vl)"/>
<rect x="301" y="648" width="6" height="22" fill="#9a9a9a"/><rect x="302" y="649" width="4" height="21" fill="url(#vl)"/>
<rect x="308" y="643" width="6" height="27" fill="#5e5e5e"/><rect x="309" y="644" width="4" height="26" fill="url(#vd)"/>
<rect x="315" y="633" width="6" height="37" fill="#9a9a9a"/><rect x="316" y="634" width="4" height="36" fill="url(#vl)"/>
<rect x="322" y="643" width="6" height="27" fill="#9a9a9a"/><rect x="323" y="644" width="4" height="26" fill="url(#vl)"/>
<rect x="329" y="646" width="6" height="24" fill="#5e5e5e"/><rect x="330" y="647" width="4" height="23" fill="url(#vd)"/>
<rect x="337" y="642" width="6" height="28" fill="#5e5e5e"/><rect x="338" y="643" width="4" height="27" fill="url(#vd)"/>
<rect x="344" y="642" width="6" height="28" fill="#5e5e5e"/><rect x="345" y="643" width="4" height="27" fill="url(#vd)"/>
<rect x="351" y="641" width="6" height="29" fill="#5e5e5e"/><rect x="352" y="642" width="4" height="28" fill="url(#vd)"/>
<rect x="358" y="647" width="6" height="23" fill="#9a9a9a"/><rect x="359" y="648" width="4" height="22" fill="url(#vl)"/>
<rect x="365" y="650" width="6" height="20" fill="#5e5e5e"/><rect x="366" y="651" width="4" height="19" fill="url(#vd)"/>
<rect x="372" y="644" width="6" height="26" fill="#5e5e5e"/><rect x="373" y="645" width="4" height="25" fill="url(#vd)"/>
<rect x="379" y="649" width="6" height="21" fill="#9a9a9a"/><rect x="380" y="650" width="4" height="20" fill="url(#vl)"/>
<rect x="386" y="638" width="6" height="32" fill="#9a9a9a"/><rect x="387" y="639" width="4" height="31" fill="url(#vl)"/>
<rect x="393" y="647" width="6" height="23" fill="#5e5e5e"/><rect x="394" y="648" width="4" height="22" fill="url(#vd)"/>
<rect x="401" y="652" width="6" height="18" fill="#9a9a9a"/><rect x="402" y="653" width="4" height="17" fill="url(#vl)"/>
<rect x="408" y="652" width="6" height="18" fill="#5e5e5e"/><rect x="409" y="653" width="4" height="17" fill="url(#vd)"/>
<rect x="415" y="653" width="6" height="17" fill="#9a9a9a"/><rect x="416" y="654" width="4" height="16" fill="url(#vl)"/>
<rect x="422" y="650" width="6" height="20" fill="#5e5e5e"/><rect x="423" y="651" width="4" height="19" fill="url(#vd)"/>
<rect x="429" y="647" width="6" height="23" fill="#5e5e5e"/><rect x="430" y="648" width="4" height="22" fill="url(#vd)"/>
<rect x="436" y="653" width="6" height="17" fill="#9a9a9a"/><rect x="437" y="654" width="4" height="16" fill="url(#vl)"/>
<rect x="443" y="652" width="6" height="18" fill="#9a9a9a"/><rect x="444" y="653" width="4" height="17" fill="url(#vl)"/>
<rect x="450" y="649" width="6" height="21" fill="#9a9a9a"/><rect x="451" y="650" width="4" height="20" fill="url(#vl)"/>
<rect x="457" y="650" width="6" height="20" fill="#5e5e5e"/><rect x="458" y="651" width="4" height="19" fill="url(#vd)"/>
<rect x="464" y="652" width="6" height="18" fill="#9a9a9a"/><rect x="465" y="653" width="4" height="17" fill="url(#vl)"/>
<rect x="472" y="654" width="6" height="16" fill="#9a9a9a"/><rect x="473" y="655" width="4" height="15" fill="url(#vl)"/>
<rect x="479" y="651" width="6" height="19" fill="#9a9a9a"/><rect x="480" y="652" width="4" height="18" fill="url(#vl)"/>
<rect x="486" y="652" width="6" height="18" fill="#5e5e5e"/><rect x="487" y="653" width="4" height="17" fill="url(#vd)"/>
<rect x="493" y="632" width="6" height="38" fill="#9a9a9a"/><rect x="494" y="633" width="4" height="37" fill="url(#vl)"/>
<rect x="500" y="647" width="6" height="23" fill="#5e5e5e"/><rect x="501" y="648" width="4" height="22" fill="url(#vd)"/>
<rect x="507" y="656" width="6" height="14" fill="#5e5e5e"/><rect x="508" y="657" width="4" height="13" fill="url(#vd)"/>
<rect x="514" y="648" width="6" height="22" fill="#5e5e5e"/><rect x="515" y="649" width="4" height="21" fill="url(#vd)"/>
<rect x="521" y="650" width="6" height="20" fill="#5e5e5e"/><rect x="522" y="651" width="4" height="19" fill="url(#vd)"/>
<rect x="528" y="649" width="6" height="21" fill="#5e5e5e"/><rect x="529" y="650" width="4" height="20" fill="url(#vd)"/>
<rect x="536" y="656" width="6" height="14" fill="#9a9a9a"/><rect x="537" y="657" width="4" height="13" fill="url(#vl)"/>
<rect x="543" y="645" width="6" height="25" fill="#9a9a9a"/><rect x="544" y="646" width="4" height="24" fill="url(#vl)"/>
<rect x="550" y="646" width="6" height="24" fill="#5e5e5e"/><rect x="551" y="647" width="4" height="23" fill="url(#vd)"/>
<rect x="557" y="644" width="6" height="26" fill="#5e5e5e"/><rect x="558" y="645" width="4" height="25" fill="url(#vd)"/>
<rect x="564" y="640" width="6" height="30" fill="#9a9a9a"/><rect x="565" y="641" width="4" height="29" fill="url(#vl)"/>
<rect x="571" y="601" width="6" height="69" fill="#9a9a9a"/><rect x="572" y="602" width="4" height="68" fill="url(#vl)"/>
<rect x="578" y="650" width="6" height="20" fill="#5e5e5e"/><rect x="579" y="651" width="4" height="19" fill="url(#vd)"/>
<rect x="585" y="648" width="6" height="22" fill="#5e5e5e"/><rect x="586" y="649" width="4" height="21" fill="url(#vd)"/>
<rect x="592" y="648" width="6" height="22" fill="#9a9a9a"/><rect x="593" y="649" width="4" height="21" fill="url(#vl)"/>
<rect x="600" y="644" width="6" height="26" fill="#5e5e5e"/><rect x="601" y="645" width="4" height="25" fill="url(#vd)"/>
<rect x="607" y="644" width="6" height="26" fill="#5e5e5e"/><rect x="608" y="645" width="4" height="25" fill="url(#vd)"/>
<rect x="614" y="646" width="6" height="24" fill="#5e5e5e"/><rect x="615" y="647" width="4" height="23" fill="url(#vd)"/>
<rect x="621" y="644" width="6" height="26" fill="#5e5e5e"/><rect x="622" y="645" width="4" height="25" fill="url(#vd)"/>
<rect x="628" y="646" width="6" height="24" fill="#5e5e5e"/><rect x="629" y="647" width="4" height="23" fill="url(#vd)"/>
<rect x="635" y="648" width="6" height="22" fill="#9a9a9a"/><rect x="636" y="649" width="4" height="21" fill="url(#vl)"/>
<rect x="642" y="638" width="6" height="32" fill="#9a9a9a"/><rect x="643" y="639" width="4" height="31" fill="url(#vl)"/>
<rect x="649" y="649" width="6" height="21" fill="#5e5e5e"/><rect x="650" y="650" width="4" height="20" fill="url(#vd)"/>
<rect x="656" y="650" width="6" height="20" fill="#5e5e5e"/><rect x="657" y="651" width="4" height="19" fill="url(#vd)"/>
<rect x="663" y="646" width="6" height="24" fill="#9a9a9a"/><rect x="664" y="647" width="4" height="23" fill="url(#vl)"/>
<rect x="671" y="652" width="6" height="18" fill="#5e5e5e"/><rect x="672" y="653" width="4" height="17" fill="url(#vd)"/>
<rect x="678" y="646" width="6" height="24" fill="#9a9a9a"/><rect x="679" y="647" width="4" height="23" fill="url(#vl)"/>
<rect x="685" y="651" width="6" height="19" fill="#5e5e5e"/><rect x="686" y="652" width="4" height="18" fill="url(#vd)"/>
<rect x="692" y="646" width="6" height="24" fill="#9a9a9a"/><rect x="693" y="647" width="4" height="23" fill="url(#vl)"/>
<rect x="699" y="645" width="6" height="25" fill="#9a9a9a"/><rect x="700" y="646" width="4" height="24" fill="url(#vl)"/>
<rect x="706" y="651" width="6" height="19" fill="#5e5e5e"/><rect x="707" y="652" width="4" height="18" fill="url(#vd)"/>
<rect x="713" y="645" width="6" height="25" fill="#5e5e5e"/><rect x="714" y="646" width="4" height="24" fill="url(#vd)"/>
<rect x="720" y="651" width="6" height="19" fill="#9a9a9a"/><rect x="721" y="652" width="4" height="18" fill="url(#vl)"/>
<rect x="727" y="652" width="6" height="18" fill="#9a9a9a"/><rect x="728" y="653" width="4" height="17" fill="url(#vl)"/>
<rect x="735" y="649" width="6" height="21" fill="#5e5e5e"/><rect x="736" y="650" width="4" height="20" fill="url(#vd)"/>
<rect x="742" y="643" width="6" height="27" fill="#5e5e5e"/><rect x="743" y="644" width="4" height="26" fill="url(#vd)"/>
<rect x="749" y="636" width="6" height="34" fill="#5e5e5e"/><rect x="750" y="637" width="4" height="33" fill="url(#vd)"/>
<rect x="756" y="647" width="6" height="23" fill="#9a9a9a"/><rect x="757" y="648" width="4" height="22" fill="url(#vl)"/>
<rect x="763" y="648" width="6" height="22" fill="#9a9a9a"/><rect x="764" y="649" width="4" height="21" fill="url(#vl)"/>
<rect x="770" y="645" width="6" height="25" fill="#9a9a9a"/><rect x="771" y="646" width="4" height="24" fill="url(#vl)"/>
<rect x="777" y="637" width="6" height="33" fill="#5e5e5e"/><rect x="778" y="638" width="4" height="32" fill="url(#vd)"/>
<rect x="784" y="644" width="6" height="26" fill="#5e5e5e"/><rect x="785" y="645" width="4" height="25" fill="url(#vd)"/>
<rect x="791" y="649" width="6" height="21" fill="#9a9a9a"/><rect x="792" y="650" width="4" height="20" fill="url(#vl)"/>
<rect x="798" y="645" width="6" height="25" fill="#9a9a9a"/><rect x="799" y="646" width="4" height="24" fill="url(#vl)"/>
<rect x="806" y="649" width="6" height="21" fill="#9a9a9a"/><rect x="807" y="650" width="4" height="20" fill="url(#vl)"/>
<rect x="813" y="641" width="6" height="29" fill="#9a9a9a"/><rect x="814" y="642" width="4" height="28" fill="url(#vl)"/>
<rect x="820" y="638" width="6" height="32" fill="#9a9a9a"/><rect x="821" y="639" width="4" height="31" fill="url(#vl)"/>
<rect x="827" y="651" width="6" height="19" fill="#5e5e5e"/><rect x="828" y="652" width="4" height="18" fill="url(#vd)"/>
<rect x="834" y="649" width="6" height="21" fill="#9a9a9a"/><rect x="835" y="650" width="4" height="20" fill="url(#vl)"/>
<rect x="841" y="641" width="6" height="29" fill="#9a9a9a"/><rect x="842" y="642" width="4" height="28" fill="url(#vl)"/>
<rect x="848" y="646" width="6" height="24" fill="#9a9a9a"/><rect x="849" y="647" width="4" height="23" fill="url(#vl)"/>
<rect x="855" y="643" width="6" height="27" fill="#5e5e5e"/><rect x="856" y="644" width="4" height="26" fill="url(#vd)"/>
<rect x="862" y="649" width="6" height="21" fill="#9a9a9a"/><rect x="863" y="650" width="4" height="20" fill="url(#vl)"/>
<rect x="870" y="637" width="6" height="33" fill="#9a9a9a"/><rect x="871" y="638" width="4" height="32" fill="url(#vl)"/>
<rect x="877" y="642" width="6" height="28" fill="#9a9a9a"/><rect x="878" y="643" width="4" height="27" fill="url(#vl)"/>
<rect x="884" y="645" width="6" height="25" fill="#9a9a9a"/><rect x="885" y="646" width="4" height="24" fill="url(#vl)"/>
<rect x="891" y="642" width="6" height="28" fill="#9a9a9a"/><rect x="892" y="643" width="4" height="27" fill="url(#vl)"/>
<rect x="898" y="638" width="6" height="32" fill="#5e5e5e"/><rect x="899" y="639" width="4" height="31" fill="url(#vd)"/>
<rect x="905" y="643" width="6" height="27" fill="#5e5e5e"/><rect x="906" y="644" width="4" height="26" fill="url(#vd)"/>
<rect x="912" y="647" width="6" height="23" fill="#9a9a9a"/><rect x="913" y="648" width="4" height="22" fill="url(#vl)"/>
<rect x="919" y="654" width="6" height="16" fill="#9a9a9a"/><rect x="920" y="655" width="4" height="15" fill="url(#vl)"/>
<rect x="926" y="651" width="6" height="19" fill="#9a9a9a"/><rect x="927" y="652" width="4" height="18" fill="url(#vl)"/>
<rect x="933" y="650" width="6" height="20" fill="#5e5e5e"/><rect x="934" y="651" width="4" height="19" fill="url(#vd)"/>
<rect x="941" y="648" width="6" height="22" fill="#9a9a9a"/><rect x="942" y="649" width="4" height="21" fill="url(#vl)"/>
<rect x="948" y="644" width="6" height="26" fill="#9a9a9a"/><rect x="949" y="645" width="4" height="25" fill="url(#vl)"/>
<rect x="955" y="625" width="6" height="45" fill="#9a9a9a"/><rect x="956" y="626" width="4" height="44" fill="url(#vl)"/>
<rect x="962" y="644" width="6" height="26" fill="#9a9a9a"/><rect x="963" y="645" width="4" height="25" fill="url(#vl)"/>
<rect x="969" y="648" width="6" height="22" fill="#9a9a9a"/><rect x="970" y="649" width="4" height="21" fill="url(#vl)"/>
<rect x="976" y="644" width="6" height="26" fill="#9a9a9a"/><rect x="977" y="645" width="4" height="25" fill="url(#vl)"/>
<rect x="983" y="637" width="6" height="33" fill="#9a9a9a"/><rect x="984" y="638" width="4" height="32" fill="url(#vl)"/>
<rect x="990" y="643" width="6" height="27" fill="#5e5e5e"/><rect x="991" y="644" width="4" height="26" fill="url(#vd)"/>
</g>
<g shape-rendering="crispEdges">
<rect x="1" y="576" width="57" height="16" fill="#f4f4f4"/>
<rect x="1" y="592" width="58" height="1" fill="#b8b8b8"/>
<rect x="58" y="576" width="1" height="16" fill="#b8b8b8"/>
<rect x="5" y="579" width="5" height="10" fill="#dcdcdc"/><rect x="10" y="579" width="5" height="10" fill="#9a9a9a"/>
</g>
<svg x="18.5" y="575.4" width="44.5" height="18" overflow="hidden"><text x="-2.0" y="12" font-size="11" fill="#000" textLength="34.5" lengthAdjust="spacingAndGlyphs">Volume</text></svg>
<g>
<g clip-path="url(#cr70)"><polygon points="880.5,709.5 880.5,710.6 887.5,709.2 894.5,707.6 901.5,707.6 908.5,707.6 915.5,706.5 922.5,705.7 929.5,705.7 936.5,709.2 944.5,708.4 951.5,704.6 958.5,703.2 965.5,699.6 972.5,699.4 979.5,697.4 986.5,696.3 993.5,697.2 993.5,709.5" fill="url(#rg)"/></g>
<polyline points="0.0,729.2 6.5,724.2 13.5,725.5 20.5,727.2 27.5,735.5 34.5,728.8 41.5,722.2 48.5,725.5 55.5,724.5 62.5,725.2 70.5,725.5 77.5,726.5 84.5,721.2 91.5,717.2 98.5,715.2 105.5,716.2 112.5,714.2 119.5,721.2 126.5,725.2 133.5,728.2 141.5,729.5 148.5,735.2 155.5,735.2 162.5,734.2 169.5,729.2 176.5,729.2 183.5,721.2 190.5,724.2 197.5,726.8 205.5,730.2 212.5,742.2 219.5,739.2 226.5,736.2 233.5,732.2 240.5,724.5 247.5,721.2 254.5,722.2 261.5,723.2 269.5,722.2 276.5,722.0 283.5,719.2 290.5,721.2 297.5,720.2 304.5,719.2 311.5,723.2 318.5,714.2 325.5,713.2 332.5,714.2 340.5,723.0 347.5,731.2 354.5,735.2 361.5,732.2 368.5,732.2 375.5,738.2 382.5,734.0 389.5,729.2 396.5,734.2 404.5,731.2 411.5,735.2 418.5,734.2 425.5,738.2 432.5,740.5 439.5,739.2 446.5,735.2 453.5,734.2 460.5,737.2 467.5,736.0 475.5,730.0 482.5,724.2 489.5,726.2 496.5,724.2 503.5,728.2 510.5,729.5 517.5,731.2 524.5,732.5 531.5,733.5 539.5,732.2 546.5,729.2 553.5,733.2 560.5,735.2 567.5,727.2 574.5,724.2 581.5,731.2 588.5,733.5 595.5,728.2 603.5,735.0 610.5,736.2 617.5,740.2 624.5,744.2 631.5,745.5 638.5,740.5 645.5,737.2 652.5,741.2 659.5,745.2 666.5,744.2 674.5,745.2 681.5,737.2 688.5,740.2 695.5,728.2 702.5,727.2 709.5,728.2 716.5,735.2 723.5,734.2 730.5,733.2 738.5,738.2 745.5,739.5 752.5,745.5 759.5,744.2 766.5,741.2 773.5,740.2 780.5,744.2 787.5,745.5 794.5,744.2 801.5,739.2 809.5,734.5 816.5,726.2 823.5,724.2 830.5,726.2 837.5,725.2 844.5,723.2 851.5,718.2 858.5,724.2 865.5,720.2 873.5,713.4 880.5,710.6 887.5,709.2 894.5,707.6 901.5,707.6 908.5,707.6 915.5,706.5 922.5,705.7 929.5,705.7 936.5,709.2 944.5,708.4 951.5,704.6 958.5,703.2 965.5,699.6 972.5,699.4 979.5,697.4 986.5,696.3 993.5,697.2" fill="none" stroke="#111" stroke-width="1.1" stroke-linejoin="round"/>
<rect x="1" y="709" width="1137" height="1" fill="#2e2ed8" shape-rendering="crispEdges"/>
<rect x="1" y="746" width="1137" height="1" fill="#2e2ed8" shape-rendering="crispEdges"/>
</g>
<g shape-rendering="crispEdges">
<rect x="1" y="671" width="62" height="16" fill="#f4f4f4"/>
<rect x="1" y="687" width="63" height="1" fill="#b8b8b8"/>
<rect x="63" y="671" width="1" height="16" fill="#b8b8b8"/>
<rect x="5" y="674" width="10" height="10" fill="#000"/>
</g>
<svg x="18.5" y="670.4" width="48.5" height="18" overflow="hidden"><text x="-2.0" y="12" font-size="11" fill="#000" textLength="38.5" lengthAdjust="spacingAndGlyphs">RSI (14)</text></svg>
<g shape-rendering="crispEdges" fill="#909090">
<rect x="1139" y="146" width="4" height="1"/>
<rect x="1139" y="250" width="4" height="1"/>
<rect x="1139" y="357" width="4" height="1"/>
<rect x="1139" y="468" width="4" height="1"/>
<rect x="1139" y="584" width="4" height="1"/>
<rect x="1139" y="601" width="4" height="1"/>
<rect x="1139" y="618" width="4" height="1"/>
<rect x="1139" y="635" width="4" height="1"/>
<rect x="1139" y="653" width="4" height="1"/>
<rect x="1139" y="592" width="2" height="1"/>
<rect x="1139" y="609" width="2" height="1"/>
<rect x="1139" y="627" width="2" height="1"/>
<rect x="1139" y="644" width="2" height="1"/>
<rect x="1139" y="661" width="2" height="1"/>
<rect x="1139" y="680" width="4" height="1"/>
<rect x="1139" y="718" width="4" height="1"/>
<rect x="1139" y="737" width="4" height="1"/>
<rect x="1139" y="756" width="4" height="1"/>
<rect x="1139" y="774" width="4" height="1"/>
<rect x="1139" y="690" width="2" height="1"/>
<rect x="1139" y="699" width="2" height="1"/>
<rect x="1139" y="709" width="2" height="1"/>
<rect x="1139" y="728" width="2" height="1"/>
<rect x="1139" y="746" width="2" height="1"/>
<rect x="1139" y="765" width="2" height="1"/>
</g>
<text x="1145" y="150.2" font-size="11" fill="#000" textLength="33.5" lengthAdjust="spacingAndGlyphs">16,500</text>
<text x="1145" y="254.2" font-size="11" fill="#000" textLength="33.5" lengthAdjust="spacingAndGlyphs">16,000</text>
<text x="1145" y="361.2" font-size="11" fill="#000" textLength="33.5" lengthAdjust="spacingAndGlyphs">15,500</text>
<text x="1145" y="472.4" font-size="13" font-weight="bold" fill="#000" textLength="42" lengthAdjust="spacingAndGlyphs">15,000</text>
<text x="1145.5" y="588.2" font-size="13" font-weight="bold" fill="#000" textLength="41.5" lengthAdjust="spacingAndGlyphs">1,000k</text>
<text x="1145" y="605" font-size="11" fill="#000" textLength="39.5" lengthAdjust="spacingAndGlyphs">800,000</text>
<text x="1145" y="622.2" font-size="11" fill="#000" textLength="39.5" lengthAdjust="spacingAndGlyphs">600,000</text>
<text x="1145" y="639.4" font-size="11" fill="#000" textLength="39.5" lengthAdjust="spacingAndGlyphs">400,000</text>
<text x="1145" y="657" font-size="11" fill="#000" textLength="39.5" lengthAdjust="spacingAndGlyphs">200,000</text>
<text x="1145" y="666.6" font-size="13" font-weight="bold" fill="#000" textLength="7.5" lengthAdjust="spacingAndGlyphs">0</text>
<text x="1145" y="684.3" font-size="13" font-weight="bold" fill="#000" textLength="22.5" lengthAdjust="spacingAndGlyphs">100</text>
<text x="1145" y="722.3" font-size="11" fill="#000" textLength="12" lengthAdjust="spacingAndGlyphs">60</text>
<text x="1145" y="741.3" font-size="11" fill="#000" textLength="12" lengthAdjust="spacingAndGlyphs">40</text>
<text x="1145" y="760.2" font-size="11" fill="#000" textLength="12" lengthAdjust="spacingAndGlyphs">20</text>
<text x="1145" y="775.8" font-size="13" font-weight="bold" fill="#000" textLength="7.5" lengthAdjust="spacingAndGlyphs">0</text>
<rect x="1139" y="244.5" width="4" height="1" fill="#ffc000" shape-rendering="crispEdges"/>
<rect x="1143.5" y="237" width="53" height="15" fill="url(#lb)" stroke="#b0b0b0" stroke-width="1"/>
<text x="1145.5" y="248.5" font-size="11.4" fill="#ffc000" textLength="48.5" lengthAdjust="spacingAndGlyphs">16,019.67</text>
<rect x="1139" y="312.0" width="4" height="1" fill="#32ff00" shape-rendering="crispEdges"/>
<rect x="1143.5" y="304.5" width="53" height="15" fill="url(#lb)" stroke="#b0b0b0" stroke-width="1"/>
<text x="1145.5" y="316.0" font-size="11.4" fill="#32ff00" textLength="48.5" lengthAdjust="spacingAndGlyphs">15,706.45</text>
<rect x="1139" y="365.0" width="4" height="1" fill="#dc6464" shape-rendering="crispEdges"/>
<rect x="1143.5" y="357.5" width="53" height="15" fill="url(#lb)" stroke="#b0b0b0" stroke-width="1"/>
<text x="1145.5" y="369.0" font-size="11.4" fill="#dc6464" textLength="48.5" lengthAdjust="spacingAndGlyphs">15,464.18</text>
<rect x="1139" y="119.0" width="4" height="1" fill="#000" shape-rendering="crispEdges"/>
<rect x="1143.5" y="111.5" width="53" height="15" fill="url(#yl)" stroke="#b0b0b0" stroke-width="1"/>
<text x="1145.5" y="123.0" font-size="11.4" fill="#000" textLength="48.5" lengthAdjust="spacingAndGlyphs">16,628.99</text>
<rect x="1139" y="643.0" width="4" height="1" fill="#9a9a9a" shape-rendering="crispEdges"/>
<rect x="1143.5" y="635.5" width="43" height="15" fill="url(#lb)" stroke="#b0b0b0" stroke-width="1"/>
<text x="1145.5" y="647.0" font-size="11.4" fill="#9a9a9a" textLength="39.5" lengthAdjust="spacingAndGlyphs">314,556</text>
<rect x="1139" y="696.5" width="4" height="1" fill="#000" shape-rendering="crispEdges"/>
<rect x="1143.5" y="689" width="37" height="15" fill="url(#lb)" stroke="#b0b0b0" stroke-width="1"/>
<text x="1145.5" y="700.5" font-size="11.4" fill="#000" textLength="33" lengthAdjust="spacingAndGlyphs">81.795</text>
<g shape-rendering="crispEdges" fill="#909090">
<rect x="20" y="780" width="1" height="3"/>
<rect x="34" y="780" width="1" height="3"/>
<rect x="55" y="780" width="1" height="3"/>
<rect x="91" y="780" width="1" height="3"/>
<rect x="126" y="780" width="1" height="3"/>
<rect x="162" y="780" width="1" height="3"/>
<rect x="190" y="780" width="1" height="3"/>
<rect x="197" y="780" width="1" height="3"/>
<rect x="233" y="780" width="1" height="3"/>
<rect x="269" y="780" width="1" height="3"/>
<rect x="304" y="780" width="1" height="3"/>
<rect x="340" y="780" width="1" height="3"/>
<rect x="375" y="780" width="1" height="3"/>
<rect x="411" y="780" width="1" height="3"/>
<rect x="446" y="780" width="1" height="3"/>
<rect x="482" y="780" width="1" height="3"/>
<rect x="503" y="780" width="1" height="3"/>
<rect x="517" y="780" width="1" height="3"/>
<rect x="553" y="780" width="1" height="3"/>
<rect x="588" y="780" width="1" height="3"/>
<rect x="624" y="780" width="1" height="3"/>
<rect x="652" y="780" width="1" height="3"/>
<rect x="659" y="780" width="1" height="3"/>
<rect x="695" y="780" width="1" height="3"/>
<rect x="730" y="780" width="1" height="3"/>
<rect x="766" y="780" width="1" height="3"/>
<rect x="801" y="780" width="1" height="3"/>
<rect x="809" y="780" width="1" height="3"/>
<rect x="837" y="780" width="1" height="3"/>
<rect x="873" y="780" width="1" height="3"/>
<rect x="908" y="780" width="1" height="3"/>
<rect x="944" y="780" width="1" height="3"/>
<rect x="965" y="780" width="1" height="3"/>
<rect x="979" y="780" width="1" height="3"/>
<rect x="1015" y="780" width="1" height="3"/>
<rect x="1050" y="780" width="1" height="3"/>
<rect x="1086" y="780" width="1" height="3"/>
<rect x="1100" y="780" width="1" height="3"/>
<rect x="1121" y="780" width="1" height="3"/>
</g>
<text x="33.7" y="793.8" font-size="12.5" font-weight="bold" fill="#000" text-anchor="middle">Jun</text>
<text x="90.9" y="793.5" font-size="11" fill="#000" text-anchor="middle">13</text>
<text x="125.9" y="793.5" font-size="11" fill="#000" text-anchor="middle">20</text>
<text x="161.9" y="793.5" font-size="11" fill="#000" text-anchor="middle">27</text>
<text x="189.7" y="793.8" font-size="12.5" font-weight="bold" fill="#000" text-anchor="middle">Jul</text>
<text x="232.9" y="793.5" font-size="11" fill="#000" text-anchor="middle">11</text>
<text x="268.9" y="793.5" font-size="11" fill="#000" text-anchor="middle">18</text>
<text x="303.9" y="793.5" font-size="11" fill="#000" text-anchor="middle">25</text>
<text x="339.7" y="793.8" font-size="12.5" font-weight="bold" fill="#000" text-anchor="middle">Aug</text>
<text x="374.9" y="793.5" font-size="11" fill="#000" text-anchor="middle">08</text>
<text x="410.9" y="793.5" font-size="11" fill="#000" text-anchor="middle">15</text>
<text x="445.9" y="793.5" font-size="11" fill="#000" text-anchor="middle">22</text>
<text x="502.7" y="793.8" font-size="12.5" font-weight="bold" fill="#000" text-anchor="middle">Sep</text>
<text x="552.9" y="793.5" font-size="11" fill="#000" text-anchor="middle">12</text>
<text x="587.9" y="793.5" font-size="11" fill="#000" text-anchor="middle">19</text>
<text x="623.9" y="793.5" font-size="11" fill="#000" text-anchor="middle">26</text>
<text x="651.7" y="793.8" font-size="12.5" font-weight="bold" fill="#000" text-anchor="middle">Oct</text>
<text x="694.9" y="793.5" font-size="11" fill="#000" text-anchor="middle">10</text>
<text x="729.9" y="793.5" font-size="11" fill="#000" text-anchor="middle">17</text>
<text x="765.9" y="793.5" font-size="11" fill="#000" text-anchor="middle">24</text>
<text x="808.7" y="793.8" font-size="12.5" font-weight="bold" fill="#000" text-anchor="middle">Nov</text>
<text x="836.9" y="793.5" font-size="11" fill="#000" text-anchor="middle">07</text>
<text x="872.9" y="793.5" font-size="11" fill="#000" text-anchor="middle">14</text>
<text x="907.9" y="793.5" font-size="11" fill="#000" text-anchor="middle">21</text>
<text x="964.7" y="793.8" font-size="12.5" font-weight="bold" fill="#000" text-anchor="middle">Dec</text>
<text x="1014.9" y="793.5" font-size="11" fill="#000" text-anchor="middle">12</text>
<text x="1049.9" y="793.5" font-size="11" fill="#000" text-anchor="middle">19</text>
<text x="1099.7" y="793.8" font-size="12.5" font-weight="bold" fill="#000" text-anchor="middle" textLength="30" lengthAdjust="spacingAndGlyphs">2024</text>
</svg></body></html>
